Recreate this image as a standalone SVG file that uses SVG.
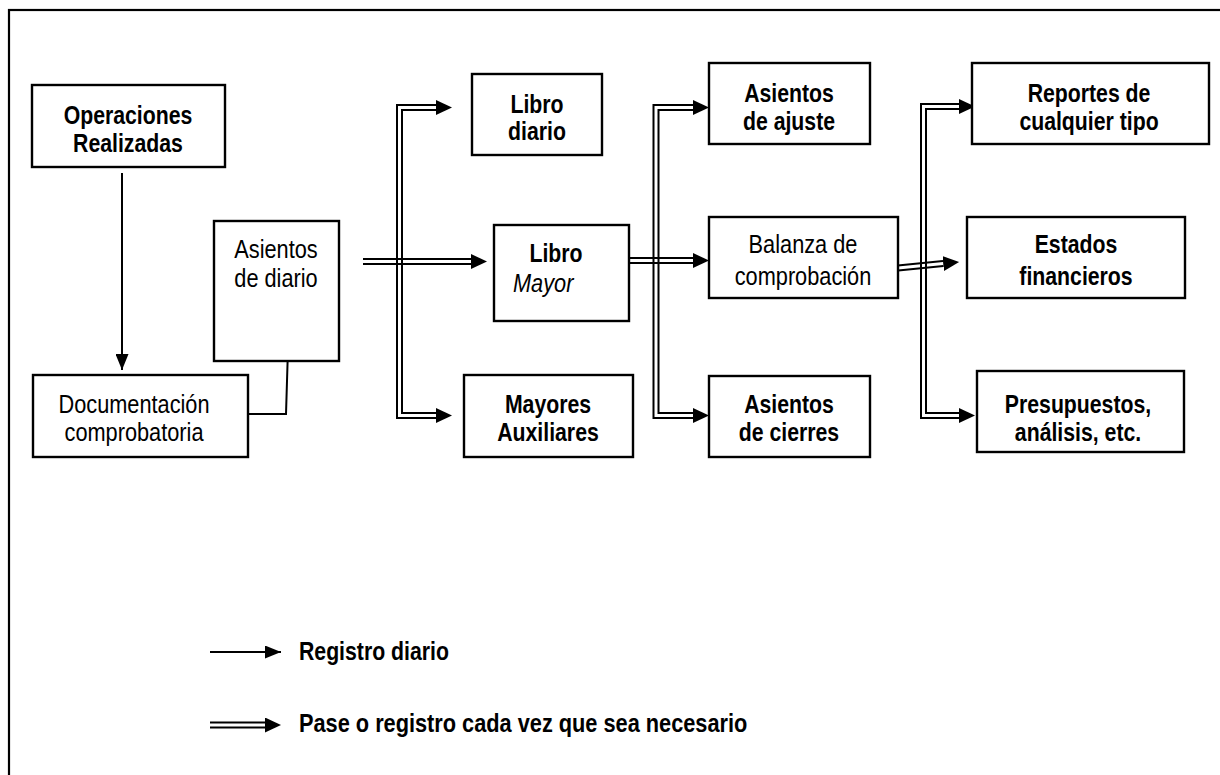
<svg xmlns="http://www.w3.org/2000/svg" width="1220" height="775" viewBox="0 0 1220 775">
  <style>
    .box { fill: #fff; stroke: #000; stroke-width: 2.4; }
    .t { font-family: "Liberation Sans", Arial, sans-serif; font-size: 25px; fill: #000; text-anchor: middle; }
    .b { font-weight: bold; }
    .it { font-style: italic; text-anchor: start; }
    .ls { text-anchor: start; }
    .s { fill: none; stroke: #000; stroke-width: 2; }
    .dk { fill: none; stroke: #000; stroke-width: 7; stroke-linejoin: miter; }
    .dw { fill: none; stroke: #fff; stroke-width: 3; stroke-linejoin: miter; }
    .ln { fill: none; stroke: #000; stroke-width: 2; }
  </style>
  <defs>
    <marker id="sgl" viewBox="0 0 16 13" refX="16" refY="6.5" markerWidth="16" markerHeight="13" markerUnits="userSpaceOnUse" orient="auto">
      <path d="M0,0 L16,6.5 L0,13 z" fill="#000"/>
    </marker>
    <marker id="dbl" viewBox="0 0 16 15" refX="0" refY="7.5" markerWidth="16" markerHeight="15" markerUnits="userSpaceOnUse" orient="auto-start-reverse">
      <path d="M0,0 L16,7.5 L0,15 z" fill="#000"/>
    </marker>
  </defs>
  <rect width="1220" height="775" fill="#fff"/>
  <rect x="9" y="10" width="1400" height="900" fill="none" stroke="#000" stroke-width="2.2"/>

  <g id="connectors">
    <path class="s" d="M122,173 V370" marker-end="url(#sgl)"/>
    <path class="s" d="M243,414 H286 L289,315" marker-end="url(#sgl)"/>

    <path class="dk" d="M436,107.5 H399.5 V415.5 H436" marker-start="url(#dbl)" marker-end="url(#dbl)"/>
    <path class="dw" d="M436,107.5 H399.5 V415.5 H436"/>
    <path class="dk" d="M693,107.5 H656 V415.5 H693" marker-start="url(#dbl)" marker-end="url(#dbl)"/>
    <path class="dw" d="M693,107.5 H656 V415.5 H693"/>
    <path class="dk" d="M959,106.5 H923.5 V415.5 H959" marker-start="url(#dbl)" marker-end="url(#dbl)"/>
    <path class="dw" d="M959,106.5 H923.5 V415.5 H959"/>

    <line class="ln" x1="363" y1="259" x2="471" y2="259"/>
    <line class="ln" x1="363" y1="264" x2="471" y2="264"/>
    <path d="M363,261.5 H471" stroke="none" fill="none" marker-end="url(#dbl)"/>

    <line class="ln" x1="620" y1="258" x2="693" y2="258"/>
    <line class="ln" x1="620" y1="263" x2="693" y2="263"/>
    <path d="M620,260.5 H693" stroke="none" fill="none" marker-end="url(#dbl)"/>

    <line class="ln" x1="897.8" y1="265.5" x2="943" y2="261.1"/>
    <line class="ln" x1="898.2" y1="270.5" x2="943.4" y2="266.1"/>
    <path d="M898,268 L943.2,263.6" stroke="none" fill="none" marker-end="url(#dbl)"/>

    <path class="s" d="M210,652 H281" marker-end="url(#sgl)"/>
    <path class="dk" d="M210,725 H265" stroke-width="6.5" marker-end="url(#dbl)"/>
    <path class="dw" d="M210,725 H265" stroke-width="2.7"/>
  </g>

  <g id="n-operaciones">
    <rect class="box" x="32" y="85" width="193" height="82"/>
    <text class="t b" transform="translate(128,124) scale(0.85,1)">Operaciones</text>
    <text class="t b" transform="translate(128,152) scale(0.85,1)">Realizadas</text>
  </g>
  <g id="n-documentacion">
    <rect class="box" x="33" y="375" width="215" height="82"/>
    <text class="t" transform="translate(134,413) scale(0.87,1)">Documentación</text>
    <text class="t" transform="translate(134,441) scale(0.87,1)">comprobatoria</text>
  </g>
  <g id="n-asientos-diario">
    <rect class="box" x="214" y="221" width="125" height="140"/>
    <text class="t" transform="translate(276,258) scale(0.87,1)">Asientos</text>
    <text class="t" transform="translate(276,287) scale(0.87,1)">de diario</text>
  </g>
  <g id="n-libro-diario">
    <rect class="box" x="472" y="74" width="130" height="81"/>
    <text class="t b" transform="translate(537,113) scale(0.85,1)">Libro</text>
    <text class="t b" transform="translate(537,140) scale(0.85,1)">diario</text>
  </g>
  <g id="n-libro-mayor">
    <rect class="box" x="494" y="225" width="135" height="96"/>
    <text class="t b" transform="translate(556,262) scale(0.85,1)">Libro</text>
    <text class="t it" transform="translate(513,292) scale(0.87,1)">Mayor</text>
  </g>
  <g id="n-mayores-auxiliares">
    <rect class="box" x="464" y="375" width="169" height="82"/>
    <text class="t b" transform="translate(548,413) scale(0.85,1)">Mayores</text>
    <text class="t b" transform="translate(548,441) scale(0.85,1)">Auxiliares</text>
  </g>
  <g id="n-asientos-ajuste">
    <rect class="box" x="709" y="63" width="161" height="81"/>
    <text class="t b" transform="translate(789,102) scale(0.85,1)">Asientos</text>
    <text class="t b" transform="translate(789,130) scale(0.85,1)">de ajuste</text>
  </g>
  <g id="n-balanza">
    <rect class="box" x="709" y="217" width="189" height="81"/>
    <text class="t" transform="translate(803,253) scale(0.87,1)">Balanza de</text>
    <text class="t" transform="translate(803,285) scale(0.87,1)">comprobación</text>
  </g>
  <g id="n-asientos-cierres">
    <rect class="box" x="709" y="376" width="161" height="81"/>
    <text class="t b" transform="translate(789,413) scale(0.85,1)">Asientos</text>
    <text class="t b" transform="translate(789,441) scale(0.85,1)">de cierres</text>
  </g>
  <g id="n-reportes">
    <rect class="box" x="972" y="63" width="237" height="81"/>
    <text class="t b" transform="translate(1089,102) scale(0.85,1)">Reportes de</text>
    <text class="t b" transform="translate(1089,130) scale(0.85,1)">cualquier tipo</text>
  </g>
  <g id="n-estados">
    <rect class="box" x="967" y="217" width="218" height="81"/>
    <text class="t b" transform="translate(1076,253) scale(0.85,1)">Estados</text>
    <text class="t b" transform="translate(1076,285) scale(0.85,1)">financieros</text>
  </g>
  <g id="n-presupuestos">
    <rect class="box" x="977" y="371" width="207" height="81"/>
    <text class="t b" transform="translate(1078,413) scale(0.85,1)">Presupuestos,</text>
    <text class="t b" transform="translate(1078,441) scale(0.85,1)">análisis, etc.</text>
  </g>

  <g id="legend">
    <text class="t b ls" transform="translate(299,660) scale(0.85,1)">Registro diario</text>
    <text class="t b ls" transform="translate(299,732) scale(0.87,1)">Pase o registro cada vez que sea necesario</text>
  </g>
</svg>
